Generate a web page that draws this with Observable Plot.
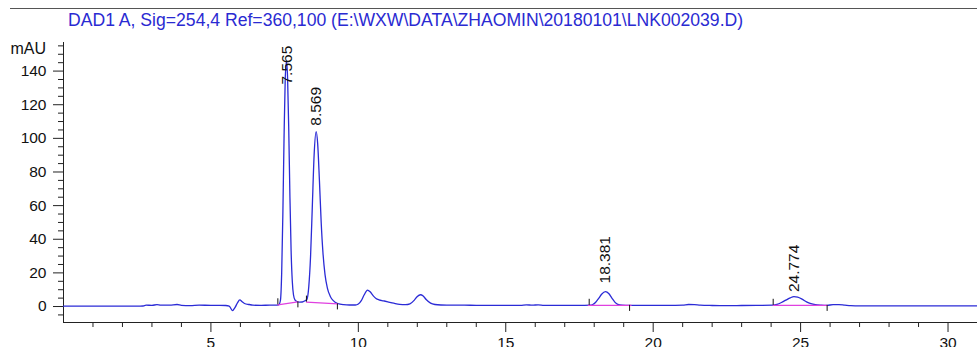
<!DOCTYPE html>
<html><head><meta charset="utf-8">
<script src="https://cdn.jsdelivr.net/npm/d3@7"></script>
<script src="https://cdn.jsdelivr.net/npm/@observablehq/plot@0.6"></script>
<style>
body{margin:0;background:#fff;font-family:"Liberation Sans",Arial,sans-serif;}
#wrap{width:977px;}
#title{height:30px;position:relative;}
#rule{position:absolute;left:10px;right:0;top:8px;border-top:1px solid #555;}
#t{position:absolute;left:68px;top:10px;font-size:17.6px;line-height:20px;color:#2a2ad2;white-space:nowrap;}
</style></head><body>
<div id="wrap">
  <div id="title"><div id="rule"></div><div id="t"></div></div>
  <div id="chart"></div>
</div>
<script>
const titleText = "DAD1 A, Sig=254,4 Ref=360,100 (E:\\WXW\\DATA\\ZHAOMIN\\20180101\\LNK002039.D)";
const yLabel = "mAU";

const signalTime = [0,0.5,1.0,1.5,2.0,2.5,2.7,2.8,3.0,3.17,3.3,3.6,3.85,4.0,4.3,4.6,5.0,5.3,5.5,5.62,5.73,5.82,5.9,5.98,6.06,6.14,6.3,6.42,6.7,7.0,7.2,
  7.30,7.36,7.40,7.44,7.48,7.52,7.565,7.60,7.64,7.68,7.72,7.76,7.80,7.85,7.92,8.0,8.1,8.2,
  8.25,8.32,8.38,8.44,8.50,8.569,8.62,8.68,8.74,8.80,8.87,8.95,9.05,9.15,9.3,9.5,9.7,9.9,
  10.0,10.1,10.2,10.31,10.4,10.5,10.6,10.7,10.85,11.0,11.2,11.4,11.6,11.75,11.9,12.0,12.11,12.2,12.3,12.45,12.6,12.8,
  13.2,13.6,14.0,14.5,15.0,15.5,15.7,15.9,16.1,16.3,16.6,17.0,17.5,
  17.85,17.95,18.05,18.15,18.25,18.381,18.5,18.6,18.7,18.8,18.95,19.2,19.6,20.0,20.5,21.0,21.2,21.4,21.6,22.0,22.5,23.0,23.5,
  24.05,24.2,24.35,24.5,24.65,24.774,24.9,25.05,25.2,25.35,25.5,25.7,25.9,26.1,26.3,26.5,26.7,27.0,28,29,30,31];
const signalValue = [0.2,0.2,0.2,0.2,0.2,0.2,0.3,0.8,0.7,1.1,0.8,0.8,1.2,0.7,0.5,0.8,0.7,0.7,0.6,0.3,-2.4,-0.5,2.2,3.9,2.8,1.8,1.2,0.8,0.7,0.8,0.8,
  1.0,4,20,55,100,135,146,136,105,65,33,15,7,4,3,2.6,2.7,3.5,
  4,12,30,60,90,104,97,75,50,32,19,11,6,3.5,1.8,1.1,0.9,0.9,
  1.5,3.5,7,9.8,8.8,6.5,4.8,4.0,3.4,2.8,2.0,1.3,1.1,1.6,3.8,6.0,7.0,6.2,4.2,2.0,1.2,0.9,
  0.8,0.8,0.7,0.7,0.7,0.7,1.0,0.8,1.0,0.7,0.7,0.7,0.7,
  0.8,1.2,2.5,4.8,7.3,8.9,7.6,5.0,2.6,1.3,0.8,0.7,0.7,0.7,0.7,0.8,1.2,1.1,0.8,0.6,0.5,0.6,0.7,
  0.8,1.3,2.4,3.8,5.2,5.9,5.6,4.4,2.8,1.7,1.1,0.8,0.7,1.1,1.1,0.8,0.5,0.4,0.4,0.4,0.4,0.4];

// integration baselines (segment id, time, value)
const baseSeg   = [1,1,2,2,3,3,4,4];
const baseTime  = [7.27,7.95,8.24,9.30,17.80,19.25,24.07,25.90];
const baseValue = [1.0,2.8,2.6,1.6,0.7,0.7,0.7,0.7];

// peak start/end event marks
const eventTime  = [7.27,7.95,8.24,9.29,17.83,19.2,24.07,25.9];
const eventLevel = [1.0,2.8,2.6,1.6,0.7,0.7,0.7,0.7];
const eventDir   = [1,-1,1,-1,1,-1,1,-1];

// peak labels
const peakTime   = [7.565,8.569,18.381,24.774];
const peakLabel  = ["7.565","8.569","18.381","24.774"];
const peakLabelY = [132,107.5,13.7,8.6];

const xTicks = [5,10,15,20,25,30];
const xMinor = d3.range(1,32).filter(v => v % 5 !== 0);
const yTicks = [0,20,40,60,80,100,120,140];
const yMinor = [-5,5,10,15,25,30,35,45,50,55,65,70,75,85,90,95,105,110,115,125,130,135,145,150,155];

document.getElementById("t").textContent = titleText;

const signal = signalTime.map((t,i) => ({t, v: signalValue[i]}));
const base = baseTime.map((t,i) => ({t, v: baseValue[i], seg: baseSeg[i]}));
const events = eventTime.map((t,i) => ({t, a: eventLevel[i], b: eventLevel[i] + eventDir[i]*3.6}));
const peaks = peakTime.map((t,i) => ({t, label: peakLabel[i], y: peakLabelY[i]}));

const ink = "#222";
const chart = Plot.plot({
  width: 977, height: 317,
  marginLeft: 63, marginRight: 0, marginTop: 12, marginBottom: 25,
  x: {domain: [0,31]},
  y: {domain: [-9.5,157]},
  style: {fontFamily: "Liberation Sans, Arial, sans-serif", fontSize: "15px", color: ink, background: "#fff", overflow: "visible"},
  marks: [
    Plot.axisY(yMinor, {tickSize: 5, tickFormat: () => "", label: null, stroke: ink}),
    Plot.axisY(yTicks, {tickSize: 10, tickPadding: 7, label: null, fontSize: 15.5, stroke: ink, fill: "#111"}),
    Plot.axisX(xMinor, {tickSize: 5, tickFormat: () => "", label: null, stroke: ink}),
    Plot.axisX(xTicks, {tickSize: 10, tickPadding: 4, label: null, fontSize: 15.5, stroke: ink, fill: "#111"}),
    Plot.frame({anchor: "left", stroke: ink}),
    Plot.frame({anchor: "bottom", stroke: ink}),
    Plot.text([yLabel], {frameAnchor: "top-left", dx: -53, dy: 6, textAnchor: "start", lineAnchor: "middle", fontSize: 16, fill: "#111"}),
    Plot.line(signal, {x: "t", y: "v", stroke: "#2b2bd6", strokeWidth: 1.3, curve: "monotone-x"}),
    Plot.line(base, {x: "t", y: "v", z: "seg", stroke: "#e040e0", strokeWidth: 1.2}),
    Plot.ruleX(events, {x: "t", y1: "a", y2: "b", stroke: "#111", strokeWidth: 1}),
    Plot.text(peaks, {x: "t", y: "y", text: "label", rotate: -90, textAnchor: "start", lineAnchor: "middle", fontSize: 15.5, fill: "#111"})
  ]
});
document.getElementById("chart").appendChild(chart);
</script>
</body></html>
